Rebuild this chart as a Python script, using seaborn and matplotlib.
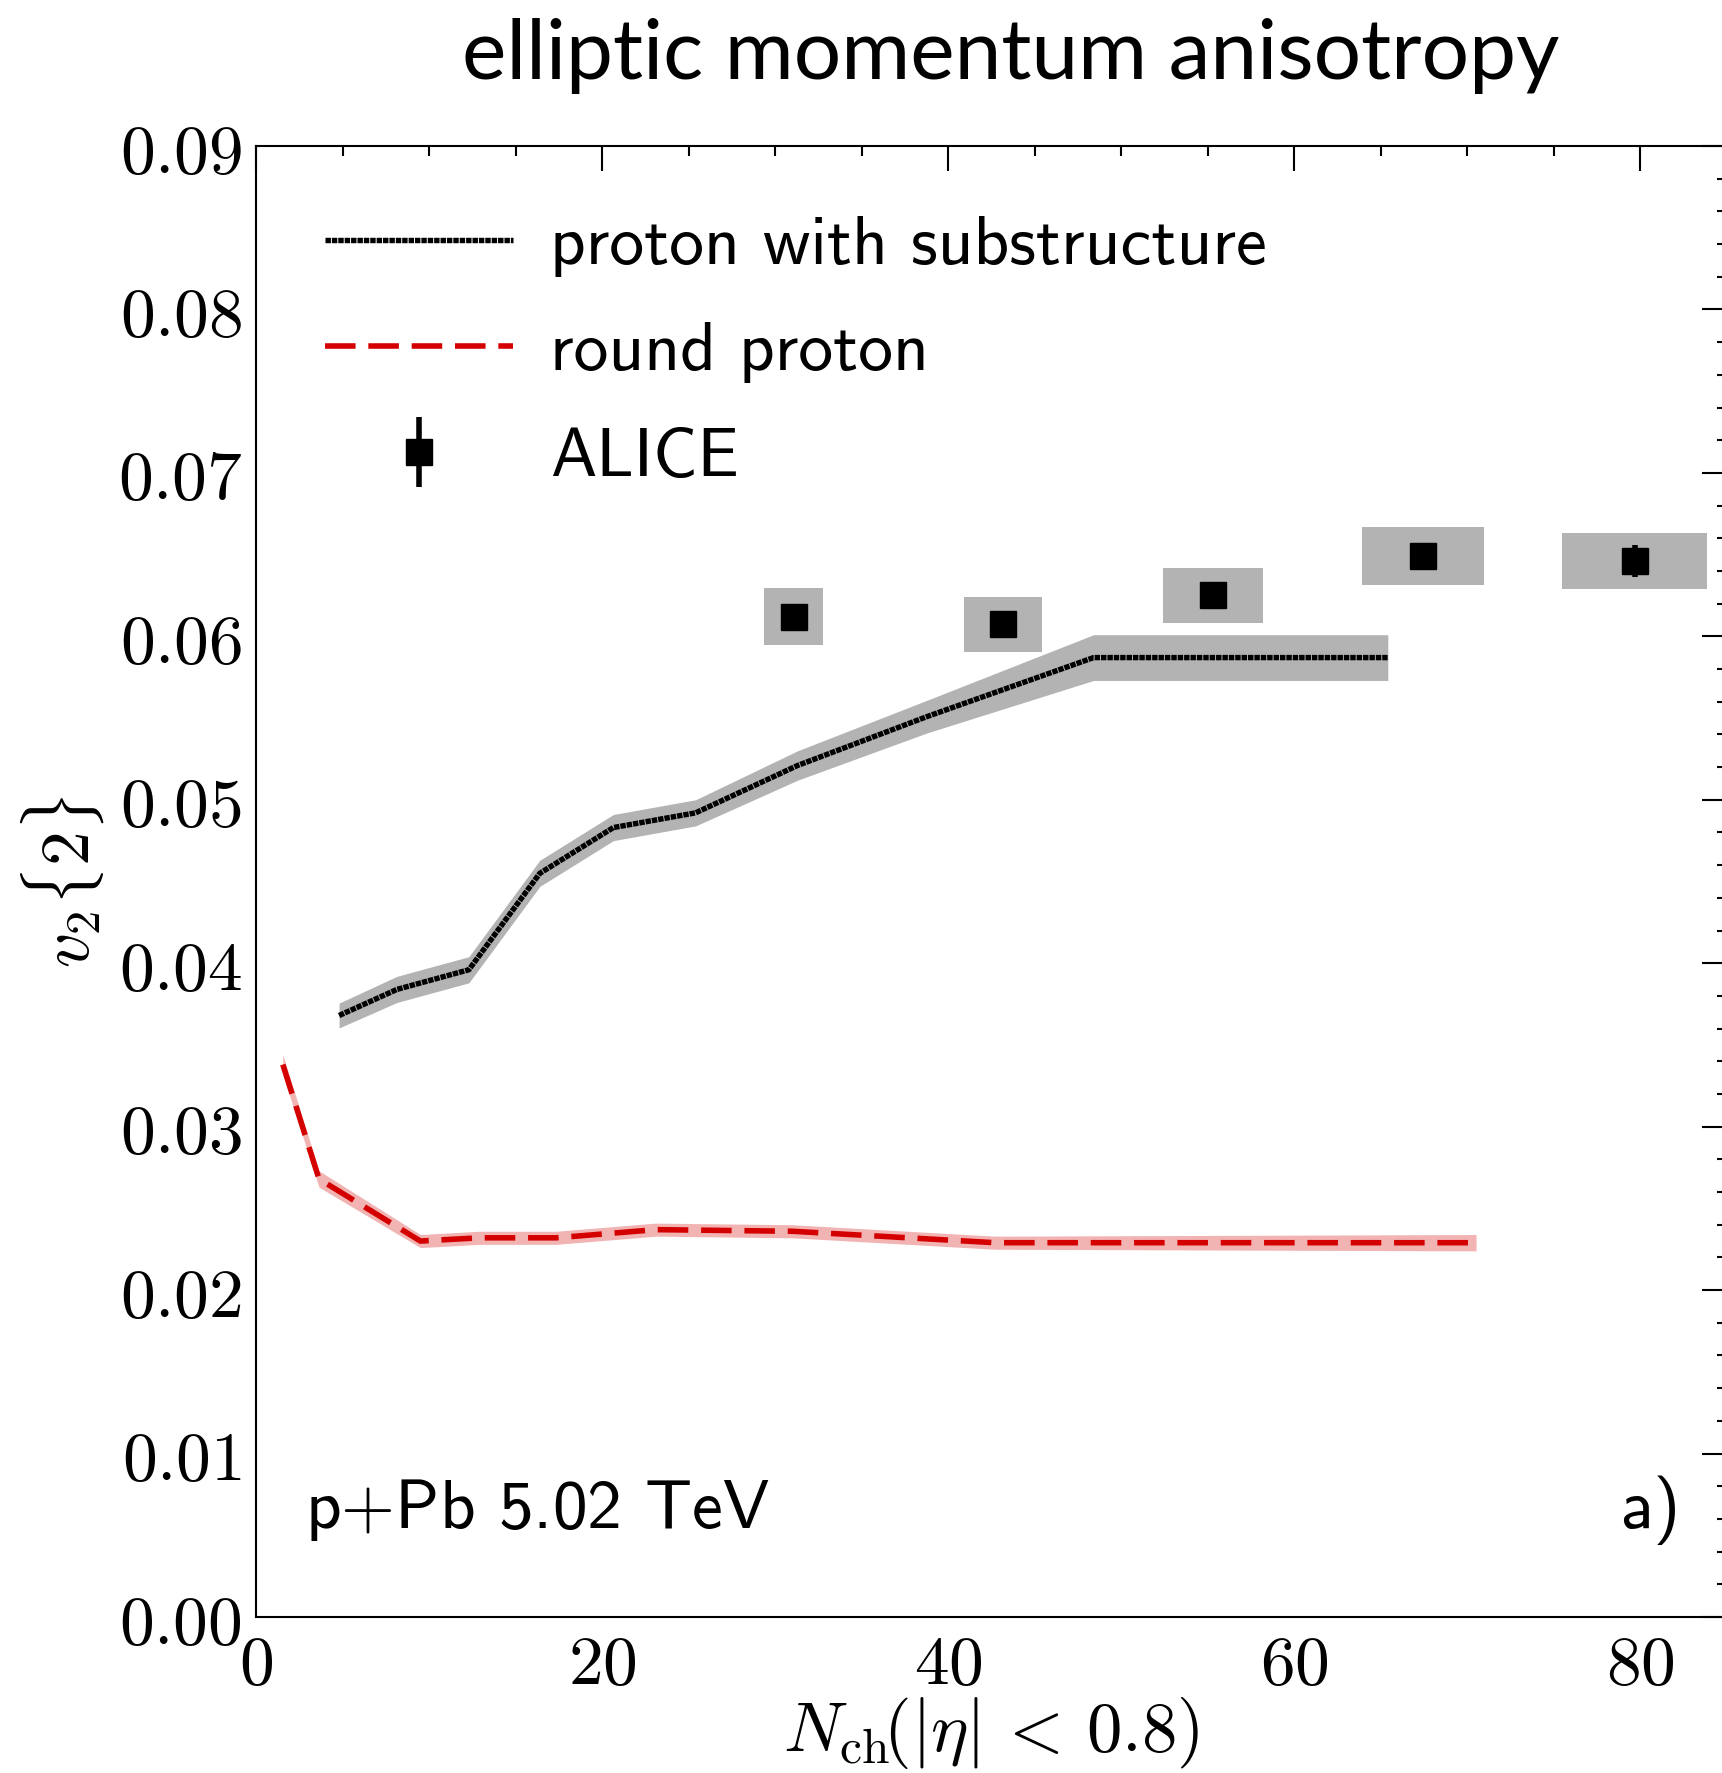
import os
import numpy as np
import matplotlib
matplotlib.use("Agg")
import matplotlib.pyplot as plt
import seaborn as sns
from matplotlib.ticker import MultipleLocator, FuncFormatter
from matplotlib.font_manager import FontProperties

# ---------------- data ----------------
sub_x = [4.8, 8.15, 12.3, 16.4, 20.65, 25.4, 31.3, 38.8, 48.4, 65.4]
sub_y = [0.0368, 0.0384, 0.0396, 0.0455, 0.0483, 0.0492, 0.0521, 0.0551, 0.0587, 0.0587]
sub_err = [0.00076, 0.0008, 0.0008, 0.0008, 0.0008, 0.0008, 0.0009, 0.0010, 0.0014, 0.0014]

rnd_x = [1.55, 3.64, 9.5, 12.9, 17.35, 23.1, 31.0, 42.7, 70.5]
rnd_y = [0.0338, 0.0268, 0.0230, 0.0232, 0.0232, 0.0237, 0.0236, 0.0229, 0.0229]
rnd_err = [0.0006, 0.0005, 0.0004, 0.0004, 0.0004, 0.0004, 0.0004, 0.0004, 0.0005]

ali_x = [31.06, 43.16, 55.29, 67.43, 79.66]
ali_y = [0.0612, 0.06075, 0.0625, 0.0649, 0.0646]
ali_stat = [0.0003, 0.0003, 0.0004, 0.0006, 0.00097]
ali_sys_y = [0.00173, 0.00168, 0.0017, 0.00178, 0.00173]
ali_sys_x = [1.68, 2.26, 2.9, 3.52, 4.17]

labels = ["proton with substructure", "round proton", "ALICE"]
title = "elliptic momentum anisotropy"
xticks = [0, 20, 40, 60, 80]
yticks = [0.00, 0.01, 0.02, 0.03, 0.04, 0.05, 0.06, 0.07, 0.08, 0.09]

# ---------------- style ----------------
sns.set_style("white")
plt.rcParams["font.family"] = ["DejaVu Sans"]
plt.rcParams["mathtext.fontset"] = "cm"
plt.rcParams["axes.unicode_minus"] = False
for k in ["text.color", "axes.labelcolor", "xtick.color", "ytick.color", "axes.edgecolor"]:
    plt.rcParams[k] = "black"

cmss_path = os.path.join(matplotlib.get_data_path(), "fonts", "ttf", "cmss10.ttf")
def cmss(size):
    return FontProperties(fname=cmss_path, size=size)

W, H = 1722, 1773
fig = plt.figure(figsize=(W / 100, H / 100), dpi=100)
ax = fig.add_axes([256 / W, (H - 1617) / H, 1471 / W, 1471 / H])

sub_x_a, sub_y_a, sub_e_a = map(np.asarray, (sub_x, sub_y, sub_err))
rnd_x_a, rnd_y_a, rnd_e_a = map(np.asarray, (rnd_x, rnd_y, rnd_err))
ali_x_a, ali_y_a = np.asarray(ali_x), np.asarray(ali_y)
sys_y_a, sys_x_a = np.asarray(ali_sys_y), np.asarray(ali_sys_x)

# bands
ax.fill_between(sub_x_a, sub_y_a - sub_e_a, sub_y_a + sub_e_a, color="#b3b3b3", lw=0, zorder=1)
ax.fill_between(rnd_x_a, rnd_y_a - rnd_e_a, rnd_y_a + rnd_e_a, color="#f2b3b3", lw=0, zorder=1)

# ALICE systematic boxes
ax.bar(ali_x_a, 2 * sys_y_a, bottom=ali_y_a - sys_y_a, width=2 * sys_x_a,
       color="#b3b3b3", lw=0, zorder=1)

# lines
sns.lineplot(x=sub_x_a, y=sub_y_a, ax=ax, color="black", lw=3.9,
             linestyle=(0, (1, 0.18)), dash_capstyle="butt", zorder=3)
sns.lineplot(x=rnd_x_a, y=rnd_y_a, ax=ax, color="#d40000", lw=4.0,
             linestyle=(0, (5.5, 2.3)), dash_capstyle="butt", zorder=3)
h_sub, h_rnd = ax.lines[0], ax.lines[1]

eb = ax.errorbar(ali_x_a, ali_y_a, yerr=ali_stat, fmt="s", color="black", ms=19.4,
                 elinewidth=4, capsize=0, zorder=4)

# axes
ax.set_xlim(0, 85)
ax.set_ylim(0, 0.09)
ax.set_xticks(xticks)
ax.set_yticks(yticks)
ax.xaxis.set_minor_locator(MultipleLocator(5))
ax.yaxis.set_minor_locator(MultipleLocator(0.002))
ax.xaxis.set_major_formatter(FuncFormatter(lambda v, p: f"${v:.0f}$"))
ax.yaxis.set_major_formatter(FuncFormatter(lambda v, p: f"${v:.2f}$"))
ax.tick_params(which="both", direction="in", top=True, right=True, colors="black")
ax.tick_params(which="major", length=18, width=1.5, labelsize=50, pad=10)
ax.tick_params(which="minor", length=7.5, width=1.5)
for s in ax.spines.values():
    s.set_linewidth(1.5)
    s.set_color("black")

ax.set_xlabel(r"$N_{\rm ch}\!(|\eta|\,<\,0.8)$", fontsize=51)
ax.set_ylabel(r"$v_2\{2\}$", fontsize=50)
ax.xaxis.set_label_coords(0.5, -0.053)
ax.yaxis.set_label_coords(-0.102, 0.5)

FS = 50
ax.legend([h_sub, h_rnd, eb], labels, loc="upper left", frameon=False,
          prop=cmss(FS), handlelength=2.7, labelspacing=0.64,
          handletextpad=0.54, borderaxespad=0.6)

ax.text(0.033, 0.0605, r"p$+$Pb 5.02 TeV", transform=ax.transAxes,
        fontproperties=cmss(FS), ha="left", va="baseline")
ax.text(0.968, 0.0605, "a)", transform=ax.transAxes,
        fontproperties=cmss(FS), ha="right", va="baseline")

t = fig.text(1011 / W, 1 - 79 / H, title, fontsize=56, family="Lato",
             ha="center", va="baseline", color="black")
fig.canvas.draw()
wpx = t.get_window_extent().width
t.set_fontsize(56 * 1097 / wpx)

fig.savefig("out.png", dpi=100)
